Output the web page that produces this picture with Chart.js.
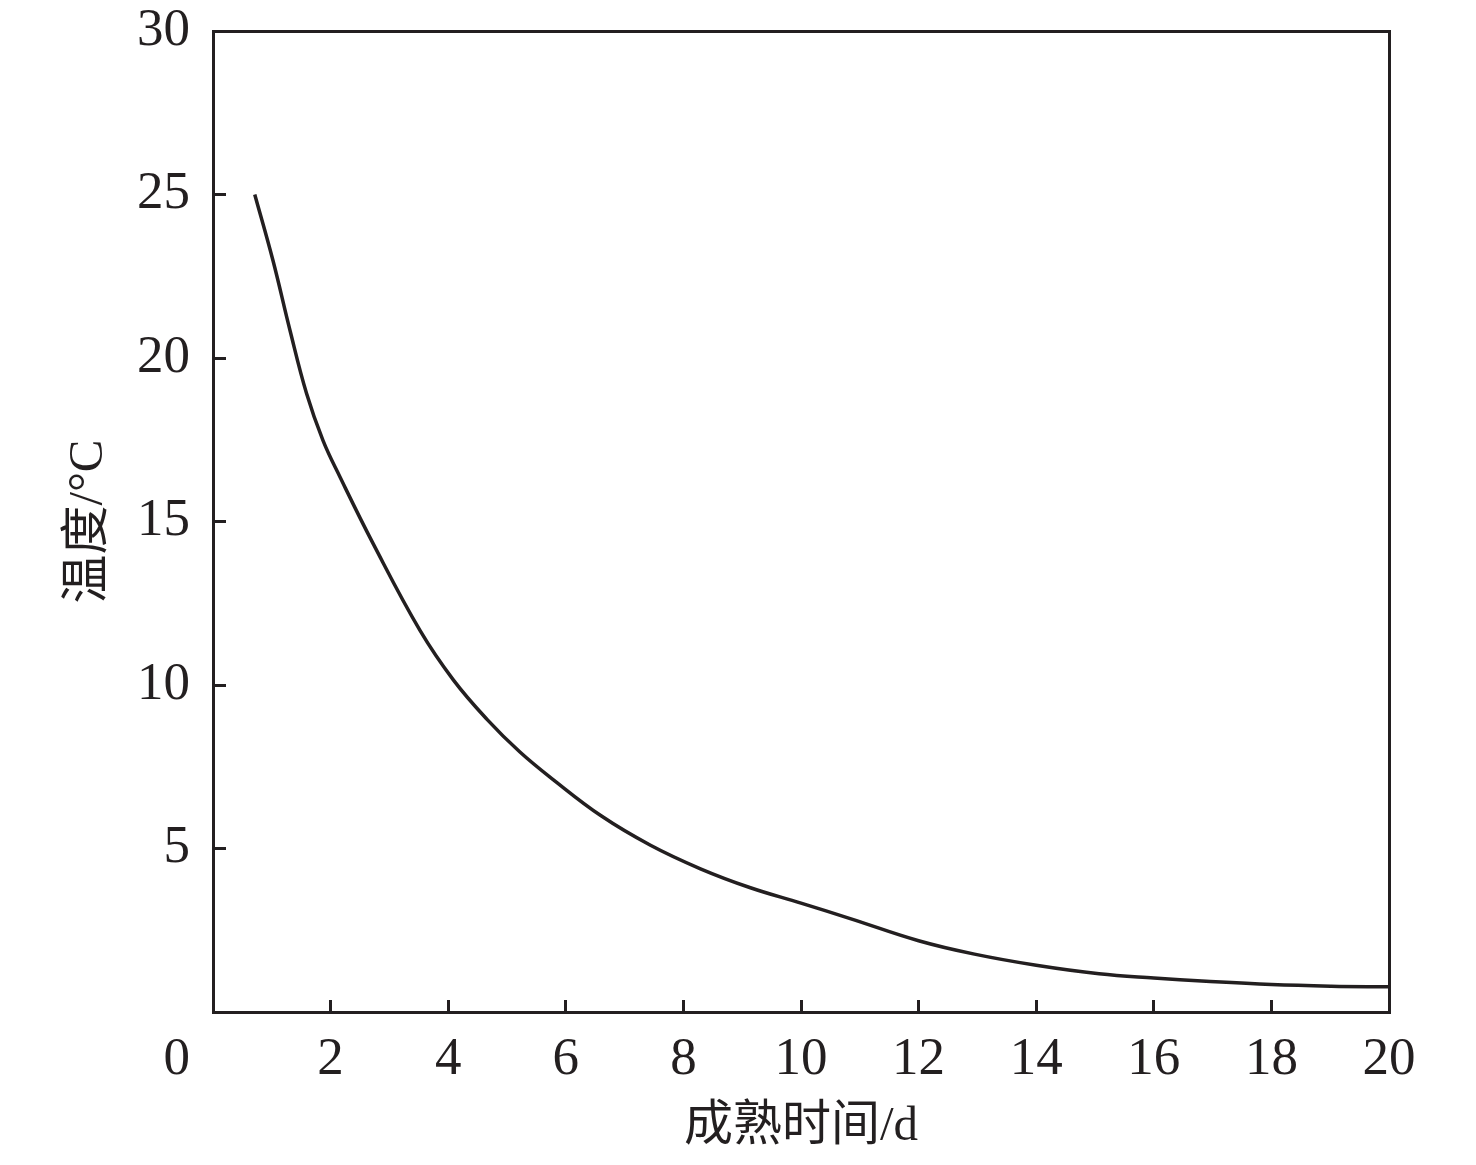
<!DOCTYPE html>
<html lang="zh">
<head>
    <meta charset="UTF-8">
    <title>温度与成熟时间</title>
    <script src="https://cdn.jsdelivr.net/npm/chart.js@4.4.1/dist/chart.umd.min.js"></script>
    <style>
        html, body { margin: 0; padding: 0; background: #fff; }
        #wrap { width: 1476px; height: 1165px; position: relative; }
    </style>
</head>
<body>
    <div id="wrap"><canvas id="curveChart"></canvas></div>

    <script>
        // 数据
        const days  = [0.71, 1.02, 1.31, 1.59, 1.87, 2.16, 2.73, 3.52, 4.09, 4.66, 5.22, 5.79, 6.6, 7.44, 8.29, 9.14, 10.0, 10.85, 12, 12.95, 14, 15.07, 16, 16.89, 18, 19.02, 20];
        const temps = [25, 22.98, 20.84, 18.92, 17.48, 16.36, 14.3, 11.67, 10.15, 8.95, 7.95, 7.1, 6.0, 5.1, 4.38, 3.8, 3.33, 2.85, 2.18, 1.77, 1.43, 1.17, 1.04, 0.94, 0.84, 0.79, 0.77];
        const xTitle = '成熟时间/d';
        const yTitle = '温度/°C';
        const originLabel = '0';

        const ink = '#231f20';
        const tickFont = { family: "'Liberation Serif', 'Noto Sans CJK SC', serif", size: 53 };
        const titleFont = { family: "'Liberation Serif', 'Noto Sans CJK SC', serif", size: 49 };

        // 原点处的 "0"：与 y 轴刻度右对齐，位于 x 轴刻度行
        const originPlugin = {
            id: 'originLabel',
            afterDraw(chart) {
                const { ctx, scales } = chart;
                ctx.save();
                ctx.font = `${tickFont.size}px ${tickFont.family}`;
                ctx.fillStyle = ink;
                ctx.textAlign = 'right';
                ctx.textBaseline = 'middle';
                ctx.fillText(originLabel, scales.y.right - 23, scales.x.top + 48);
                ctx.restore();
            }
        };

        const pts = days.map((d, i) => ({ x: d, y: temps[i] }));

        new Chart(document.getElementById('curveChart'), {
            type: 'line',
            data: {
                datasets: [{
                    data: pts,
                    borderColor: ink,
                    borderWidth: 3.5,
                    pointRadius: 0,
                    fill: false,
                    tension: 0.4
                }]
            },
            options: {
                responsive: true,
                maintainAspectRatio: false,
                animation: false,
                layout: { padding: 0 },
                plugins: {
                    legend: { display: false },
                    tooltip: { enabled: false }
                },
                scales: {
                    x: {
                        type: 'linear',
                        position: 'bottom',
                        min: 0,
                        max: 20,
                        afterFit: s => { s.height = 153; s.paddingLeft = 0; s.paddingRight = 0; },
                        border: { display: true, color: ink, width: 3 },
                        grid: { display: true, drawOnChartArea: false, drawTicks: true, tickLength: -12, color: ink, lineWidth: 3 },
                        ticks: {
                            stepSize: 2,
                            padding: 28,
                            color: ink,
                            font: tickFont,
                            maxRotation: 0,
                            callback: v => v === 0 ? '' : v
                        },
                        title: { display: true, text: xTitle, color: ink, font: titleFont, padding: { top: 8, bottom: 8 } }
                    },
                    y: {
                        type: 'linear',
                        position: 'left',
                        min: 0,
                        max: 30,
                        afterFit: s => { s.width = 213; s.paddingTop = 0; s.paddingBottom = 0; },
                        border: { display: true, color: ink, width: 3 },
                        grid: { display: true, drawOnChartArea: false, drawTicks: true, tickLength: -13, color: ink, lineWidth: 3 },
                        ticks: {
                            stepSize: 5,
                            padding: 36,
                            color: ink,
                            font: tickFont,
                            callback: v => v === 0 ? '' : v
                        },
                        title: { display: true, text: yTitle, color: ink, font: titleFont, padding: { top: 60, bottom: 60 } }
                    },
                    x2: {
                        type: 'linear',
                        position: 'top',
                        min: 0,
                        max: 20,
                        afterFit: s => { s.height = 31; },
                        border: { display: true, color: ink, width: 3 },
                        grid: { display: false },
                        ticks: { display: false }
                    },
                    y2: {
                        type: 'linear',
                        position: 'right',
                        min: 0,
                        max: 30,
                        afterFit: s => { s.width = 87; },
                        border: { display: true, color: ink, width: 3 },
                        grid: { display: false },
                        ticks: { display: false }
                    }
                }
            },
            plugins: [originPlugin]
        });
    </script>
</body>
</html>
